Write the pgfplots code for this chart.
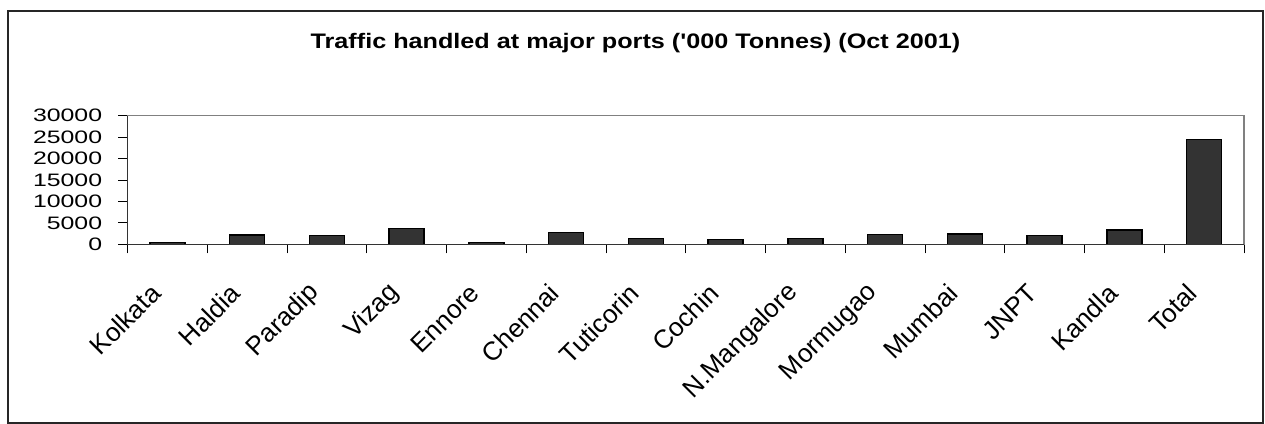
\documentclass[border=0pt]{standalone}
\usepackage{fontspec}
\setmainfont{Liberation Sans}
\newfontfamily\tickfont{Liberation Sans}[FakeStretch=1.38]
\newfontfamily\titlefont{Liberation Sans}[FakeStretch=1.2]
\usepackage{pgfplots}
\pgfplotsset{compat=1.18}
\definecolor{barfill}{HTML}{333333}
\begin{document}
\begin{tikzpicture}
\useasboundingbox (0,0) rectangle (632.5bp,-212bp);
\draw[line width=0.6bp, black!85] (4bp,-5.5bp) rectangle (631.5bp,-211.5bp);
\node[anchor=base, font=\titlefont\bfseries\fontsize{10.5bp}{12bp}\selectfont] at (317.75bp,-24bp) {Traffic handled at major ports ('000 Tonnes) (Oct 2001)};
\begin{axis}[
  at={(63.75bp,-122.15bp)}, anchor=south west,
  scale only axis, width=558.25bp, height=64.3bp,
  xmin=-0.5, xmax=13.5, ymin=0, ymax=30000,
  clip=false,
  ytick={0,5000,...,30000},
  scaled y ticks=false,
  /pgf/number format/.cd, 1000 sep={}, assume math mode=true, /pgfplots/.cd,
  xtick={0,...,13},
  xticklabels={Kolkata,Haldia,Paradip,Vizag,Ennore,Chennai,Tuticorin,Cochin,N.Mangalore,Mormugao,Mumbai,JNPT,Kandla,Total},
  minor xtick={-0.5,0.5,...,13.5},
  xtick pos=lower, ytick pos=left,
  tick align=outside,
  major tick length=4.5bp,
  minor tick length=4.5bp,
  major x tick style={draw=none},
  minor x tick style={black, line width=0.5bp},
  major y tick style={black, line width=0.5bp},
  axis line style={draw=gray, line width=0.75bp},
  yticklabel style={font=\tickfont\fontsize{9bp}{10bp}\selectfont, inner sep=1bp, xshift=-7bp},
  xticklabel style={font=\fontsize{13bp}{14bp}\selectfont, xshift=-5bp, yshift=-17bp, rotate=45, anchor=east, inner sep=1bp},
]
\addplot[ybar, bar width=0.44, fill=barfill, draw=black, line width=0.75bp] coordinates {
(0,450) (1,2150) (2,2000) (3,3700) (4,450) (5,2750) (6,1300) (7,1150) (8,1300) (9,2300) (10,2450) (11,2000) (12,3300) (13,24400)
};
\draw[black!80, line width=0.75bp] (rel axis cs:0,1) -- (rel axis cs:0,0) -- (rel axis cs:1,0);
\end{axis}
\end{tikzpicture}
\end{document}
